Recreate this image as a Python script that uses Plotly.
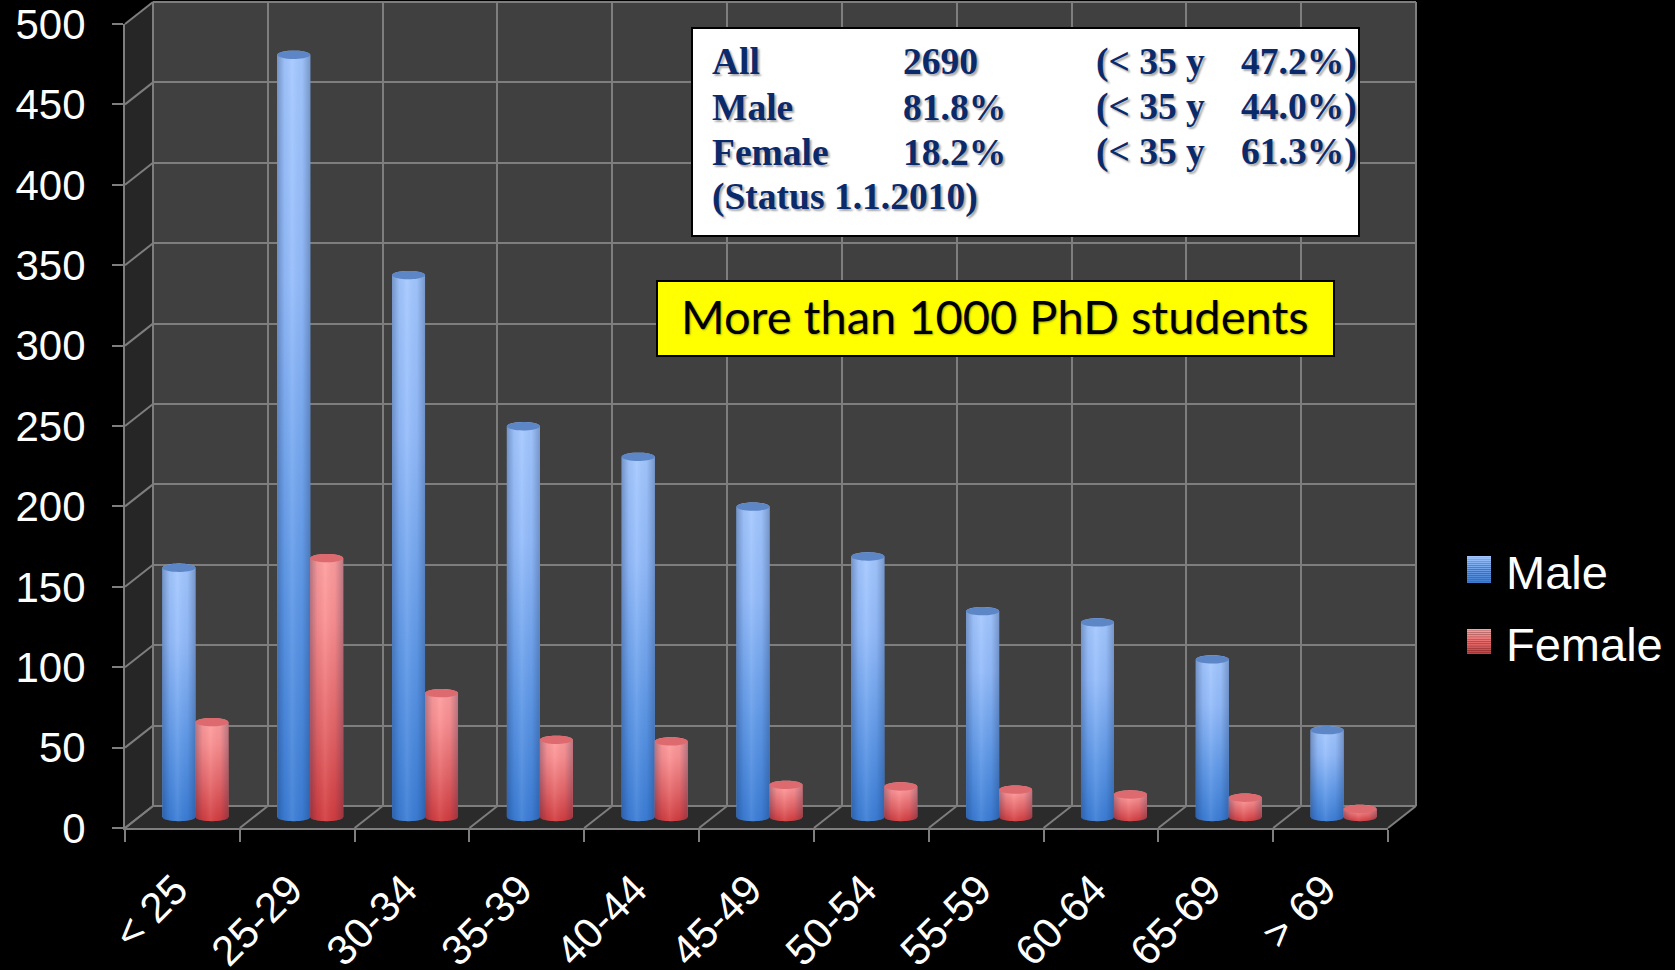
import numpy as np
import plotly.graph_objects as go

# ---------- data ----------
categories = ["< 25", "25-29", "30-34", "35-39", "40-44", "45-49", "50-54", "55-59", "60-64", "65-69", "> 69"]
male = [155, 474, 337, 243, 224, 193, 162, 128, 121, 98, 54]
female = [59, 161, 77, 48, 47, 20, 19, 17, 14, 12, 5]
y_ticks = [0, 50, 100, 150, 200, 250, 300, 350, 400, 450, 500]
info_rows = [
    ["All", "2690", "(< 35 y", "47.2%)"],
    ["Male", "81.8%", "(< 35 y", "44.0%)"],
    ["Female", "18.2%", "(< 35 y", "61.3%)"],
    ["(Status 1.1.2010)", "", "", ""],
]
callout = "More than 1000 PhD students"

# ---------- layout geometry (pixels) ----------
W, H = 1675, 970
FX0, FX1, FY0, FY1 = 125, 1388, 24, 828      # front plane
DX, DY = 28, -22                             # depth offset of the back wall
GRID = "#7E7E7E"
BELOW = 8                                    # value units kept under zero for the rounded bar feet
px = lambda v: v / W
py = lambda v: 1 - v / H


def dom_x(off):
    return [px(FX0 + off), px(FX1 + off)]


def dom_y(off, below=0):
    return [py(FY1 + off + below * (FY1 - FY0) / y_ticks[-1]), py(FY0 + off)]


idx = np.arange(len(categories))
half_w = 0.1435                # half a cylinder, in category units
cap_ry = 2.6                   # half height of a cap, in value units
theta = np.linspace(0, np.pi, 24)

MALE_V = [[0, "#3B7DD6"], [0.3, "#5F99E8"], [0.7, "#94BCFB"], [1, "#A4C8FF"]]
FEMALE_V = [[0, "#D33B3D"], [0.35, "#E66567"], [0.75, "#FB8F90"], [1, "#FF9E9E"]]
SHADE = [[0, "rgba(10,30,70,0.30)"], [0.22, "rgba(10,30,70,0.05)"], [0.45, "rgba(255,255,255,0.08)"],
         [0.75, "rgba(10,30,70,0.04)"], [1, "rgba(10,30,70,0.28)"]]


def outline(c, v):
    """Closed cylinder silhouette for a bar centred at c with value v."""
    xs = np.concatenate([c - half_w * np.cos(theta), c + half_w * np.cos(theta)])
    ys = np.concatenate([v + cap_ry * np.sin(theta), -cap_ry * np.sin(theta)])
    return xs, ys


fig = go.Figure()

# invisible series that gives the front axis its categories
fig.add_trace(go.Scatter(x=categories, y=[None] * len(categories), xaxis="x", yaxis="y",
                         mode="markers", showlegend=False, hoverinfo="skip"))
# back wall axes carry the grid
fig.add_trace(go.Scatter(x=[None], y=[None], xaxis="x2", yaxis="y2", mode="markers",
                         showlegend=False, hoverinfo="skip"))

series = [("Male", male, -half_w, "#6A9FE6", MALE_V, "#5D86C6"),
          ("Female", female, half_w, "#E86F70", FEMALE_V, "#DC6A6E")]

for name, vals, shift, solid, vscale, cap in series:
    fig.add_trace(go.Bar(x=idx, y=vals, name=name, xaxis="x3", yaxis="y3", showlegend=False,
                         marker=dict(color=solid, line=dict(width=0)), width=half_w * 2,
                         offsetgroup=name))
    cap_x, cap_y = [], []
    for i, v in zip(idx, vals):
        c = i + shift
        xs, ys = outline(c, v)
        fig.add_trace(go.Scatter(x=xs, y=ys, xaxis="x3", yaxis="y3", mode="none", fill="toself",
                                 fillgradient=dict(type="vertical", colorscale=vscale),
                                 showlegend=False, hoverinfo="skip"))
        fig.add_trace(go.Scatter(x=xs, y=ys, xaxis="x3", yaxis="y3", mode="none", fill="toself",
                                 fillgradient=dict(type="horizontal", colorscale=SHADE),
                                 showlegend=False, hoverinfo="skip"))
        t = np.linspace(0, 2 * np.pi, 40)
        cap_x += list(c + half_w * np.cos(t)) + [None]
        cap_y += list(v + cap_ry * np.sin(t)) + [None]
    fig.add_trace(go.Scatter(x=cap_x, y=cap_y, xaxis="x3", yaxis="y3", mode="none", fill="toself",
                             fillcolor=cap, showlegend=False, hoverinfo="skip"))

# legend entries (swatches painted underneath as gradient strips)
for name in ["Male", "Female"]:
    fig.add_trace(go.Scatter(x=[None], y=[None], name=name, legendgroup=name, mode="markers",
                             marker=dict(color="rgba(0,0,0,0)", size=1), xaxis="x3", yaxis="y3"))

shapes = []


def poly(points, fill):
    d = "M" + "L".join(f"{px(x):.5f},{py(y):.5f}" for x, y in points) + "Z"
    shapes.append(dict(type="path", path=d, xref="paper", yref="paper", fillcolor=fill,
                       line=dict(width=0), layer="below"))


def seg(x0, y0, x1, y1):
    shapes.append(dict(type="line", xref="paper", yref="paper", x0=px(x0), y0=py(y0), x1=px(x1), y1=py(y1),
                       line=dict(color=GRID, width=2), layer="below"))


# walls and floor
poly([(FX0 + DX, FY0 + DY), (FX1 + DX, FY0 + DY), (FX1 + DX, FY1 + DY), (FX0 + DX, FY1 + DY)], "#404040")
poly([(FX0, FY0), (FX0 + DX, FY0 + DY), (FX0 + DX, FY1 + DY), (FX0, FY1)], "#262626")
poly([(FX0, FY1), (FX0 + DX, FY1 + DY), (FX1 + DX, FY1 + DY), (FX1, FY1)], "#2B2B2B")
for t in y_ticks:
    yy = FY1 - (FY1 - FY0) * t / y_ticks[-1]
    seg(FX0, yy, FX0 + DX, yy + DY)
for k in range(len(categories) + 1):
    xx = FX0 + (FX1 - FX0) * k / len(categories)
    seg(xx, FY1, xx + DX, FY1 + DY)
# back wall outline
seg(FX0 + DX, FY1 + DY, FX1 + DX, FY1 + DY)
seg(FX0 + DX, FY0 + DY, FX1 + DX, FY0 + DY)
seg(FX1 + DX, FY0 + DY, FX1 + DX, FY1 + DY)
seg(FX0 + DX, FY0 + DY, FX0 + DX, FY1 + DY)


# info + callout boxes
def box(x0, y0, x1, y1, fill):
    shapes.append(dict(type="rect", xref="paper", yref="paper", x0=px(x0), x1=px(x1), y0=py(y0), y1=py(y1),
                       fillcolor=fill, line=dict(color="black", width=2), layer="above"))


box(692, 28, 1359, 236, "white")
box(657, 281, 1334, 356, "#FFFF00")


# legend swatches
def swatch(x0, y0, x1, y1, top, bottom):
    n = 14
    a, b = np.array(top), np.array(bottom)
    for k in range(n):
        c = a + (b - a) * k / (n - 1)
        shapes.append(dict(type="rect", xref="paper", yref="paper", x0=px(x0), x1=px(x1),
                           y0=py(y0 + (y1 - y0) * k / n), y1=py(y0 + (y1 - y0) * (k + 1) / n),
                           fillcolor=f"rgb({c[0]:.0f},{c[1]:.0f},{c[2]:.0f})", line=dict(width=0), layer="above"))


swatch(1467, 556, 1491, 583, (160, 198, 255), (62, 122, 205))
swatch(1467, 629, 1491, 654, (255, 158, 158), (208, 62, 62))

annotations = []
col_x = [710, 901, 1094, 1239]
row_y = [62, 107, 152, 197]
for row, yy in zip(info_rows, row_y):
    for text, xx in zip(row, col_x):
        if text:
            annotations.append(dict(text=f"<b>{text}</b>", xref="paper", yref="paper", x=px(xx), y=py(yy),
                                    xanchor="left", yanchor="middle", showarrow=False,
                                    font=dict(family="Liberation Serif", size=37.5, color="#0B2A6B",
                                              shadow="2px 2px 2px rgba(0,0,0,0.35)")))
annotations.append(dict(text=callout, xref="paper", yref="paper", x=px(995), y=py(316), xanchor="center",
                        yanchor="middle", showarrow=False,
                        font=dict(family="Lato", size=47, color="black", shadow="1px 1px 2px rgba(0,0,0,0.35)")))

fig.update_layout(
    width=W, height=H, margin=dict(l=0, r=0, t=0, b=0, autoexpand=False), autosize=False,
    paper_bgcolor="black", plot_bgcolor="rgba(0,0,0,0)",
    barmode="group", bargap=0.425, bargroupgap=0,
    font=dict(family="Liberation Sans", color="white"),
    shapes=shapes, annotations=annotations,
    xaxis=dict(domain=dom_x(0), type="category", categoryorder="array", categoryarray=categories,
               range=[-0.5, len(categories) - 0.5], tickson="boundaries", ticks="outside", ticklen=12, tickwidth=1.5,
               tickcolor=GRID, showgrid=False, zeroline=False, showline=True, linecolor=GRID, linewidth=2,
               tickangle=-45, tickfont=dict(size=42, color="white"), anchor="y", ticklabelstandoff=18,
               ticklabelshift=-7),
    yaxis=dict(domain=dom_y(0), range=[0, 500], tickvals=y_ticks, ticks="outside", ticklen=11, tickwidth=1.5,
               tickcolor=GRID, showgrid=False, zeroline=False, showline=True, linecolor=GRID, linewidth=2,
               tickfont=dict(size=42, color="white"), anchor="x", ticklabelstandoff=18),
    xaxis2=dict(domain=dom_x(DX), range=[0, len(categories)], tickvals=list(range(len(categories) + 1)),
                showticklabels=False, ticks="", showgrid=True, gridcolor=GRID, gridwidth=2, zeroline=False,
                anchor="y2"),
    yaxis2=dict(domain=dom_y(DY), range=[0, 500], tickvals=y_ticks, showticklabels=False, ticks="",
                showgrid=True, gridcolor=GRID, gridwidth=2, zeroline=False, anchor="x2"),
    xaxis3=dict(domain=dom_x(DX / 2 - 1), range=[-0.5, len(categories) - 0.5], visible=False, anchor="y3"),
    yaxis3=dict(domain=dom_y(DY / 2, BELOW), range=[-BELOW, 500], visible=False, anchor="x3"),
    legend=dict(x=px(1466), y=py(534), xanchor="left", yanchor="top", font=dict(size=47, color="white"),
                bgcolor="rgba(0,0,0,0)", tracegroupgap=8, itemclick=False, itemdoubleclick=False),
    showlegend=True,
)

fig.write_html("out.html", config=dict(displayModeBar=False),
               post_script="document.body.style.margin='0';document.body.style.background='#000';")
